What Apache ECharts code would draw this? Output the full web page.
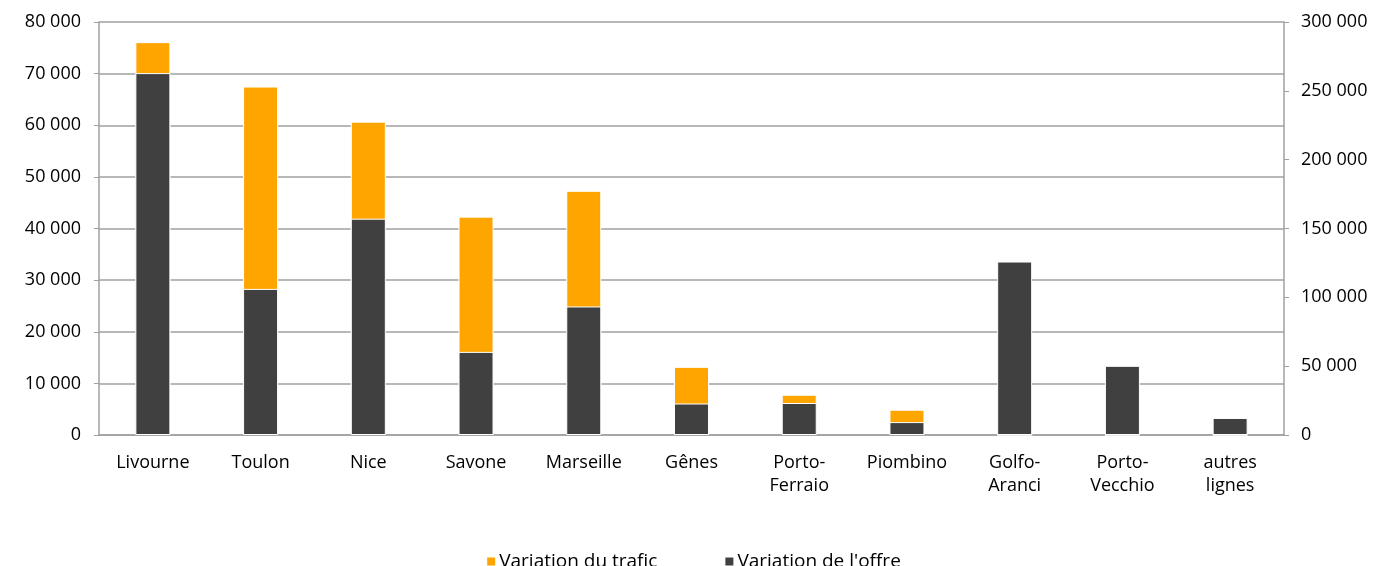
<!DOCTYPE html>
<html>
<head>
<meta charset="utf-8">
<script src="https://cdn.jsdelivr.net/npm/echarts@6/dist/echarts.min.js"></script>
<style>
html,body{margin:0;padding:0;background:#fff;}
#chart{width:1386px;height:566px;}
</style>
</head>
<body>
<div id="chart"></div>
<script>
const categories = ['Livourne','Toulon','Nice','Savone','Marseille','Gênes','Porto-\nFerraio','Piombino','Golfo-\nAranci','Porto-\nVecchio','autres\nlignes'];
const trafic = [76100, 67500, 60700, 42300, 47300, 13200, 7800, 4900, 0, 0, 0];
const offre = [70100, 28300, 41900, 16100, 24900, 6100, 6200, 2500, 33600, 13400, 3300];
const leftTicks = {min: 0, max: 80000, interval: 10000};
const rightTicks = {min: 0, max: 300000, interval: 50000};

const fmt = v => String(v).replace(/\B(?=(\d{3})+(?!\d))/g, ' ');
const FONT = 'Open Sans';
const chart = echarts.init(document.getElementById('chart'));
chart.setOption({
  animation: false,
  textStyle: {fontFamily: FONT},
  grid: {left: 99, right: 102, top: 22, bottom: 131},
  legend: {
    data: ['Variation du trafic', "Variation de l'offre"],
    top: 547, left: 'center',
    itemWidth: 10, itemHeight: 10, itemGap: 66,
    icon: 'rect',
    textStyle: {fontFamily: FONT, fontSize: 19, color: '#000', padding: [0,0,0,-2]}
  },
  xAxis: {
    type: 'category', data: categories,
    axisLine: {lineStyle: {color: '#a0a0a0', width: 1.5}},
    axisTick: {show: false},
    axisLabel: {color: '#000', fontSize: 18, margin: 16, lineHeight: 23, fontFamily: FONT}
  },
  yAxis: [{
    type: 'value', min: leftTicks.min, max: leftTicks.max, interval: leftTicks.interval,
    axisLine: {show: true, lineStyle: {color: '#a0a0a0', width: 1.5}},
    axisTick: {show: true, length: 5, lineStyle: {color: '#a0a0a0'}},
    splitLine: {lineStyle: {color: '#a0a0a0', width: 1.5}},
    axisLabel: {color: '#000', fontSize: 18, margin: 18, formatter: fmt, fontFamily: FONT}
  }, {
    type: 'value', min: rightTicks.min, max: rightTicks.max, interval: rightTicks.interval,
    position: 'right', alignTicks: false,
    axisLine: {show: true, lineStyle: {color: '#a0a0a0', width: 1.5}},
    axisTick: {show: true, length: 5, lineStyle: {color: '#a0a0a0'}},
    splitLine: {show: false},
    axisLabel: {color: '#000', fontSize: 18, margin: 17, formatter: fmt, fontFamily: FONT}
  }],
  series: [{
    name: 'Variation du trafic', type: 'bar', data: trafic, barWidth: 35, barGap: '-100%',
    itemStyle: {color: '#FFA500', borderColor: '#ffffff', borderWidth: 1}
  }, {
    name: "Variation de l'offre", type: 'bar', data: offre, barWidth: 35, barGap: '-100%',
    itemStyle: {color: '#404040', borderColor: '#ffffff', borderWidth: 1}
  }]
});
</script>
</body>
</html>
